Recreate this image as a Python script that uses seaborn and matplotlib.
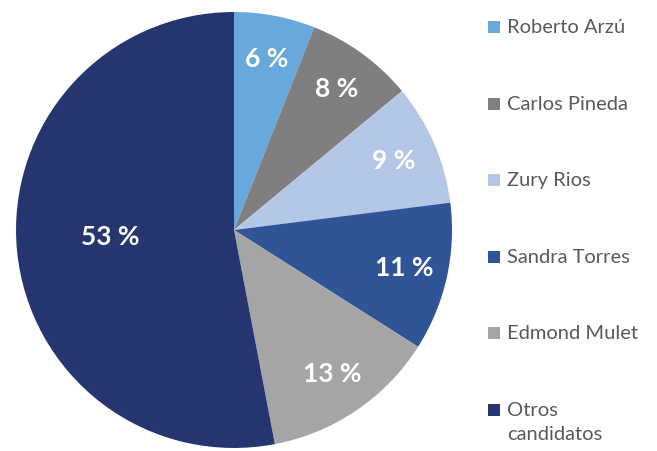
import matplotlib
matplotlib.use("Agg")
import matplotlib.pyplot as plt
from matplotlib.patches import Rectangle
import seaborn as sns
import numpy as np

# datos de la encuesta
candidatos = ["Roberto Arzú", "Carlos Pineda", "Zury Rios",
              "Sandra Torres", "Edmond Mulet", "Otros\ncandidatos"]
porcentajes = [6, 8, 9, 11, 13, 53]
colores = ["#67A9DC", "#7F7F7F", "#B4C7E7", "#2F5597", "#A5A5A5", "#243570"]

sns.set_theme(style="white")
plt.rcParams["font.family"] = ["Lato", "DejaVu Sans"]

palette = sns.color_palette(colores)

fig = plt.figure(figsize=(6.57, 4.51), dpi=100)
ax = fig.add_axes([0.0244, 0.0067, 0.6636, 0.9667])

wedges, _, autotexts = ax.pie(
    porcentajes, colors=palette, startangle=90, counterclock=False,
    autopct=lambda p: f"{p:.0f} %", pctdistance=0.80,
    textprops=dict(color="white", fontsize=19, fontweight="bold"),
    wedgeprops=dict(linewidth=0), radius=1.0,
)
# la etiqueta del sector grande va más cerca del centro
x, y = autotexts[-1].get_position()
autotexts[-1].set_position((x * 0.57 / 0.80, y * 0.57 / 0.80 + 0.02))

ax.set_xlim(-1.0, 1.0)
ax.set_ylim(-1.0, 1.0)
ax.set_aspect("equal")
ax.axis("off")

# leyenda a mano (marcador alineado con la primera línea)
W, H = 657, 451
for i, (nombre, clr) in enumerate(zip(candidatos, palette)):
    yc = 27 + i * 76.6
    fig.add_artist(Rectangle((488 / W, 1 - (yc + 6) / H), 12 / W, 12 / H,
                             transform=fig.transFigure, color=clr, lw=0))
    fig.text(507 / W, 1 - (yc - 8) / H, nombre, ha="left", va="top",
             fontsize=14.5, color="#595959", linespacing=1.5)

fig.savefig("out.png", dpi=100)
